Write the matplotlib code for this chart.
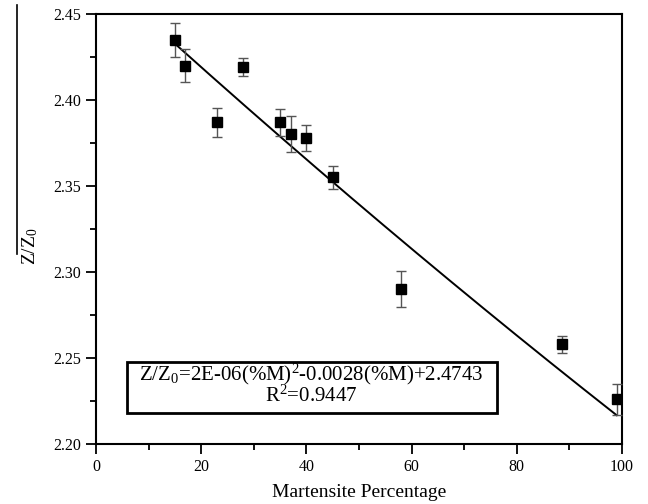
import numpy as np
import matplotlib
matplotlib.use("Agg")
import matplotlib.pyplot as plt
from matplotlib.patches import Rectangle
from matplotlib.lines import Line2D
from matplotlib.ticker import MultipleLocator, FormatStrFormatter

# Data
martensite = [15, 17, 23, 28, 35, 37, 40, 45, 58, 88.5, 99]
z_ratio = [2.435, 2.420, 2.387, 2.419, 2.387, 2.380, 2.378, 2.355, 2.290, 2.258, 2.226]
z_err = [0.010, 0.0095, 0.0086, 0.0053, 0.0078, 0.0105, 0.0075, 0.0065, 0.0105, 0.005, 0.009]

# quadratic fit coefficients as printed on the chart
fit_coef = [2e-6, -0.0028, 2.4743]

fit_text = "Z/Z$_0$=2E-06(%M)$^2$-0.0028(%M)+2.4743\nR$^2$=0.9447"

plt.rcParams['font.family'] = ['Liberation Serif', 'DejaVu Serif']
plt.rcParams['mathtext.fontset'] = 'custom'
plt.rcParams['mathtext.rm'] = 'Liberation Serif'
plt.rcParams['mathtext.it'] = 'Liberation Serif:italic'

fig = plt.figure(figsize=(6.48, 5.04), dpi=100)
ax = fig.add_axes([96/648, 1-444/504, (622-96)/648, (444-14)/504])

xs = np.linspace(min(martensite), max(martensite), 200)
ax.plot(xs, np.polyval(fit_coef, xs), color='black', lw=1.4, zorder=2)

ax.errorbar(martensite, z_ratio, yerr=z_err, fmt='s', color='black',
            ms=7, ecolor='#555555', elinewidth=1.0, capsize=3.5, capthick=1.0, zorder=3)

ax.set_xlim(0, 100)
ax.set_ylim(2.20, 2.45)
ax.xaxis.set_major_locator(MultipleLocator(20))
ax.xaxis.set_minor_locator(MultipleLocator(10))
ax.yaxis.set_major_locator(MultipleLocator(0.05))
ax.yaxis.set_minor_locator(MultipleLocator(0.025))
ax.yaxis.set_major_formatter(FormatStrFormatter('%.2f'))
ax.tick_params(which='major', direction='out', length=7, width=1.3, labelsize=11.5)
ax.tick_params(which='minor', direction='out', length=4, width=1.3)
ax.tick_params(axis='x', pad=4)
for s in ax.spines.values():
    s.set_linewidth(1.5)

ax.set_xlabel("Martensite Percentage", fontsize=14, labelpad=6)
ax.set_ylabel(r"Z/Z$_0$", fontsize=14, va='center')
ax.yaxis.set_label_coords(-0.125, 0.46)

ax.add_patch(Rectangle((0.059, 0.072), 0.703, 0.119, transform=ax.transAxes,
                       fill=False, edgecolor='black', lw=2.0, zorder=4))
ax.text(0.41, 0.139, fit_text, transform=ax.transAxes, ha='center', va='center',
        multialignment='center', fontsize=15, linespacing=0.95)

fig.add_artist(Line2D([17/648, 17/648], [1-5/504, 1-254/504], color='black', lw=1.2))

fig.savefig("out.png", dpi=100)
